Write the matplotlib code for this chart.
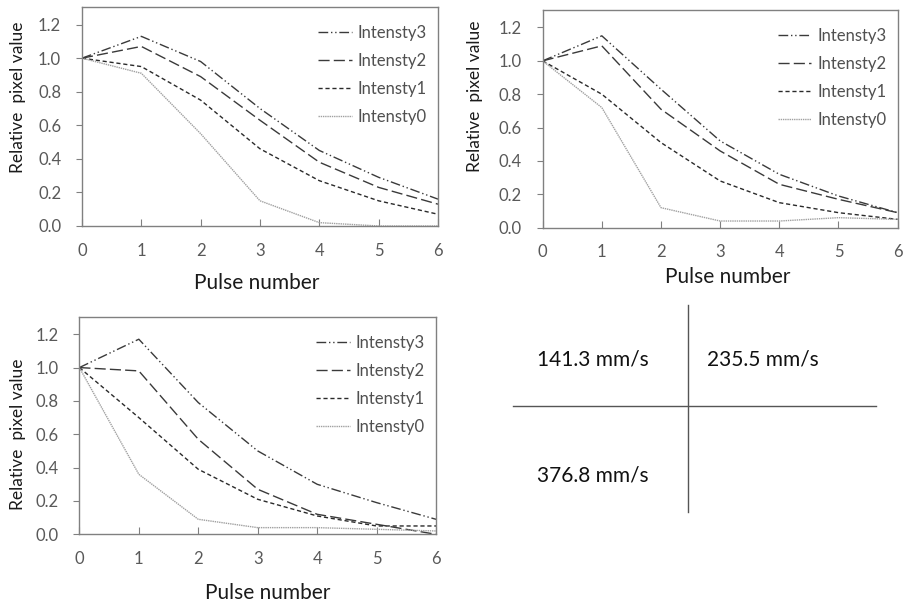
import matplotlib
matplotlib.use("Agg")
import matplotlib.pyplot as plt

plt.rcParams['font.family'] = ['Lato', 'DejaVu Sans']

pulses = [0, 1, 2, 3, 4, 5, 6]
labels = ['Intensty3', 'Intensty2', 'Intensty1', 'Intensty0']

# 141.3 mm/s
v141 = {
    'Intensty3': [1.0, 1.13, 0.98, 0.70, 0.45, 0.29, 0.16],
    'Intensty2': [1.0, 1.07, 0.89, 0.63, 0.38, 0.23, 0.13],
    'Intensty1': [1.0, 0.95, 0.75, 0.46, 0.27, 0.15, 0.07],
    'Intensty0': [1.0, 0.91, 0.55, 0.15, 0.02, 0.00, 0.00],
}
# 235.5 mm/s
v235 = {
    'Intensty3': [1.0, 1.15, 0.83, 0.52, 0.32, 0.19, 0.09],
    'Intensty2': [1.0, 1.09, 0.71, 0.46, 0.26, 0.17, 0.09],
    'Intensty1': [1.0, 0.80, 0.51, 0.28, 0.15, 0.09, 0.05],
    'Intensty0': [1.0, 0.72, 0.12, 0.04, 0.04, 0.06, 0.05],
}
# 376.8 mm/s
v376 = {
    'Intensty3': [1.0, 1.17, 0.79, 0.50, 0.30, 0.19, 0.09],
    'Intensty2': [1.0, 0.98, 0.57, 0.27, 0.12, 0.06, 0.00],
    'Intensty1': [1.0, 0.70, 0.39, 0.21, 0.11, 0.05, 0.05],
    'Intensty0': [1.0, 0.36, 0.09, 0.04, 0.04, 0.03, 0.02],
}
speeds = ['141.3 mm/s', '235.5 mm/s', '376.8 mm/s']

styles = {
    'Intensty3': dict(color='#3a3a3a', ls=(0, (7, 2, 1, 2, 1, 2)), lw=1.0),
    'Intensty2': dict(color='#3a3a3a', ls=(0, (8, 3)), lw=1.0),
    'Intensty1': dict(color='#2a2a2a', ls=(0, (3, 2)), lw=1.0),
    'Intensty0': dict(color='#a0a0a0', ls=(0, (1, 0.6)), lw=1.0),
}

fig = plt.figure(figsize=(9.07, 6.08), dpi=100)

# [left, bottom, width, height], xlabel pos, ylabel pos
panels = [
    (v141, [0.0904, 0.6283, 0.3925, 0.3602], (0.49, -0.26), (-0.18, 0.589)),
    (v235, [0.5983, 0.6255, 0.3914, 0.3581], (0.522, -0.226), (-0.19, 0.605)),
    (v376, [0.0875, 0.1212, 0.3933, 0.3579], (0.527, -0.27), (-0.172, 0.46)),
]

tick_col = '#595959'
spine_col = '#808080'

for data, pos, xl, yl in panels:
    ax = fig.add_axes(pos)
    for lab in labels:
        ax.plot(pulses, data[lab], label=lab, **styles[lab])
    ax.set_xlim(0, 6)
    ax.set_ylim(0, 1.305)
    ax.set_xticks(pulses)
    ax.set_yticks([0, 0.2, 0.4, 0.6, 0.8, 1.0, 1.2])
    ax.set_yticklabels(['0.0', '0.2', '0.4', '0.6', '0.8', '1.0', '1.2'])
    ax.tick_params(axis='x', direction='in', length=5, pad=12, colors=spine_col,
                   labelcolor=tick_col, labelsize=12)
    ax.tick_params(axis='y', direction='out', length=4, pad=11, colors=spine_col,
                   labelcolor=tick_col, labelsize=12)
    for s in ax.spines.values():
        s.set_color(spine_col)
        s.set_linewidth(1.0)
    ax.text(xl[0], xl[1], 'Pulse number', transform=ax.transAxes,
            ha='center', va='center', fontsize=15, color='#1a1a1a')
    ax.text(yl[0], yl[1], 'Relative  pixel value', transform=ax.transAxes,
            ha='center', va='center', rotation=90, fontsize=12.5, color='#1a1a1a')
    leg = ax.legend(loc='upper right', bbox_to_anchor=(1.01, 0.985), frameon=False,
                    fontsize=12, handlelength=2.0, labelspacing=0.72,
                    handletextpad=0.35)
    for t in leg.get_texts():
        t.set_color('#505050')

# speed key in the lower right
key = fig.add_axes([0, 0, 1, 1])
key.set_xlim(0, 907)
key.set_ylim(608, 0)
key.axis('off')
key.plot([687.7, 687.7], [305, 512], color='#555555', lw=1.0)
key.plot([513, 876], [406, 406], color='#555555', lw=1.0)
key.text(537, 359, speeds[0], ha='left', va='center', fontsize=15, color='#111111')
key.text(707, 359, speeds[1], ha='left', va='center', fontsize=15, color='#111111')
key.text(537, 475, speeds[2], ha='left', va='center', fontsize=15, color='#111111')

fig.savefig('out.png', dpi=100)
